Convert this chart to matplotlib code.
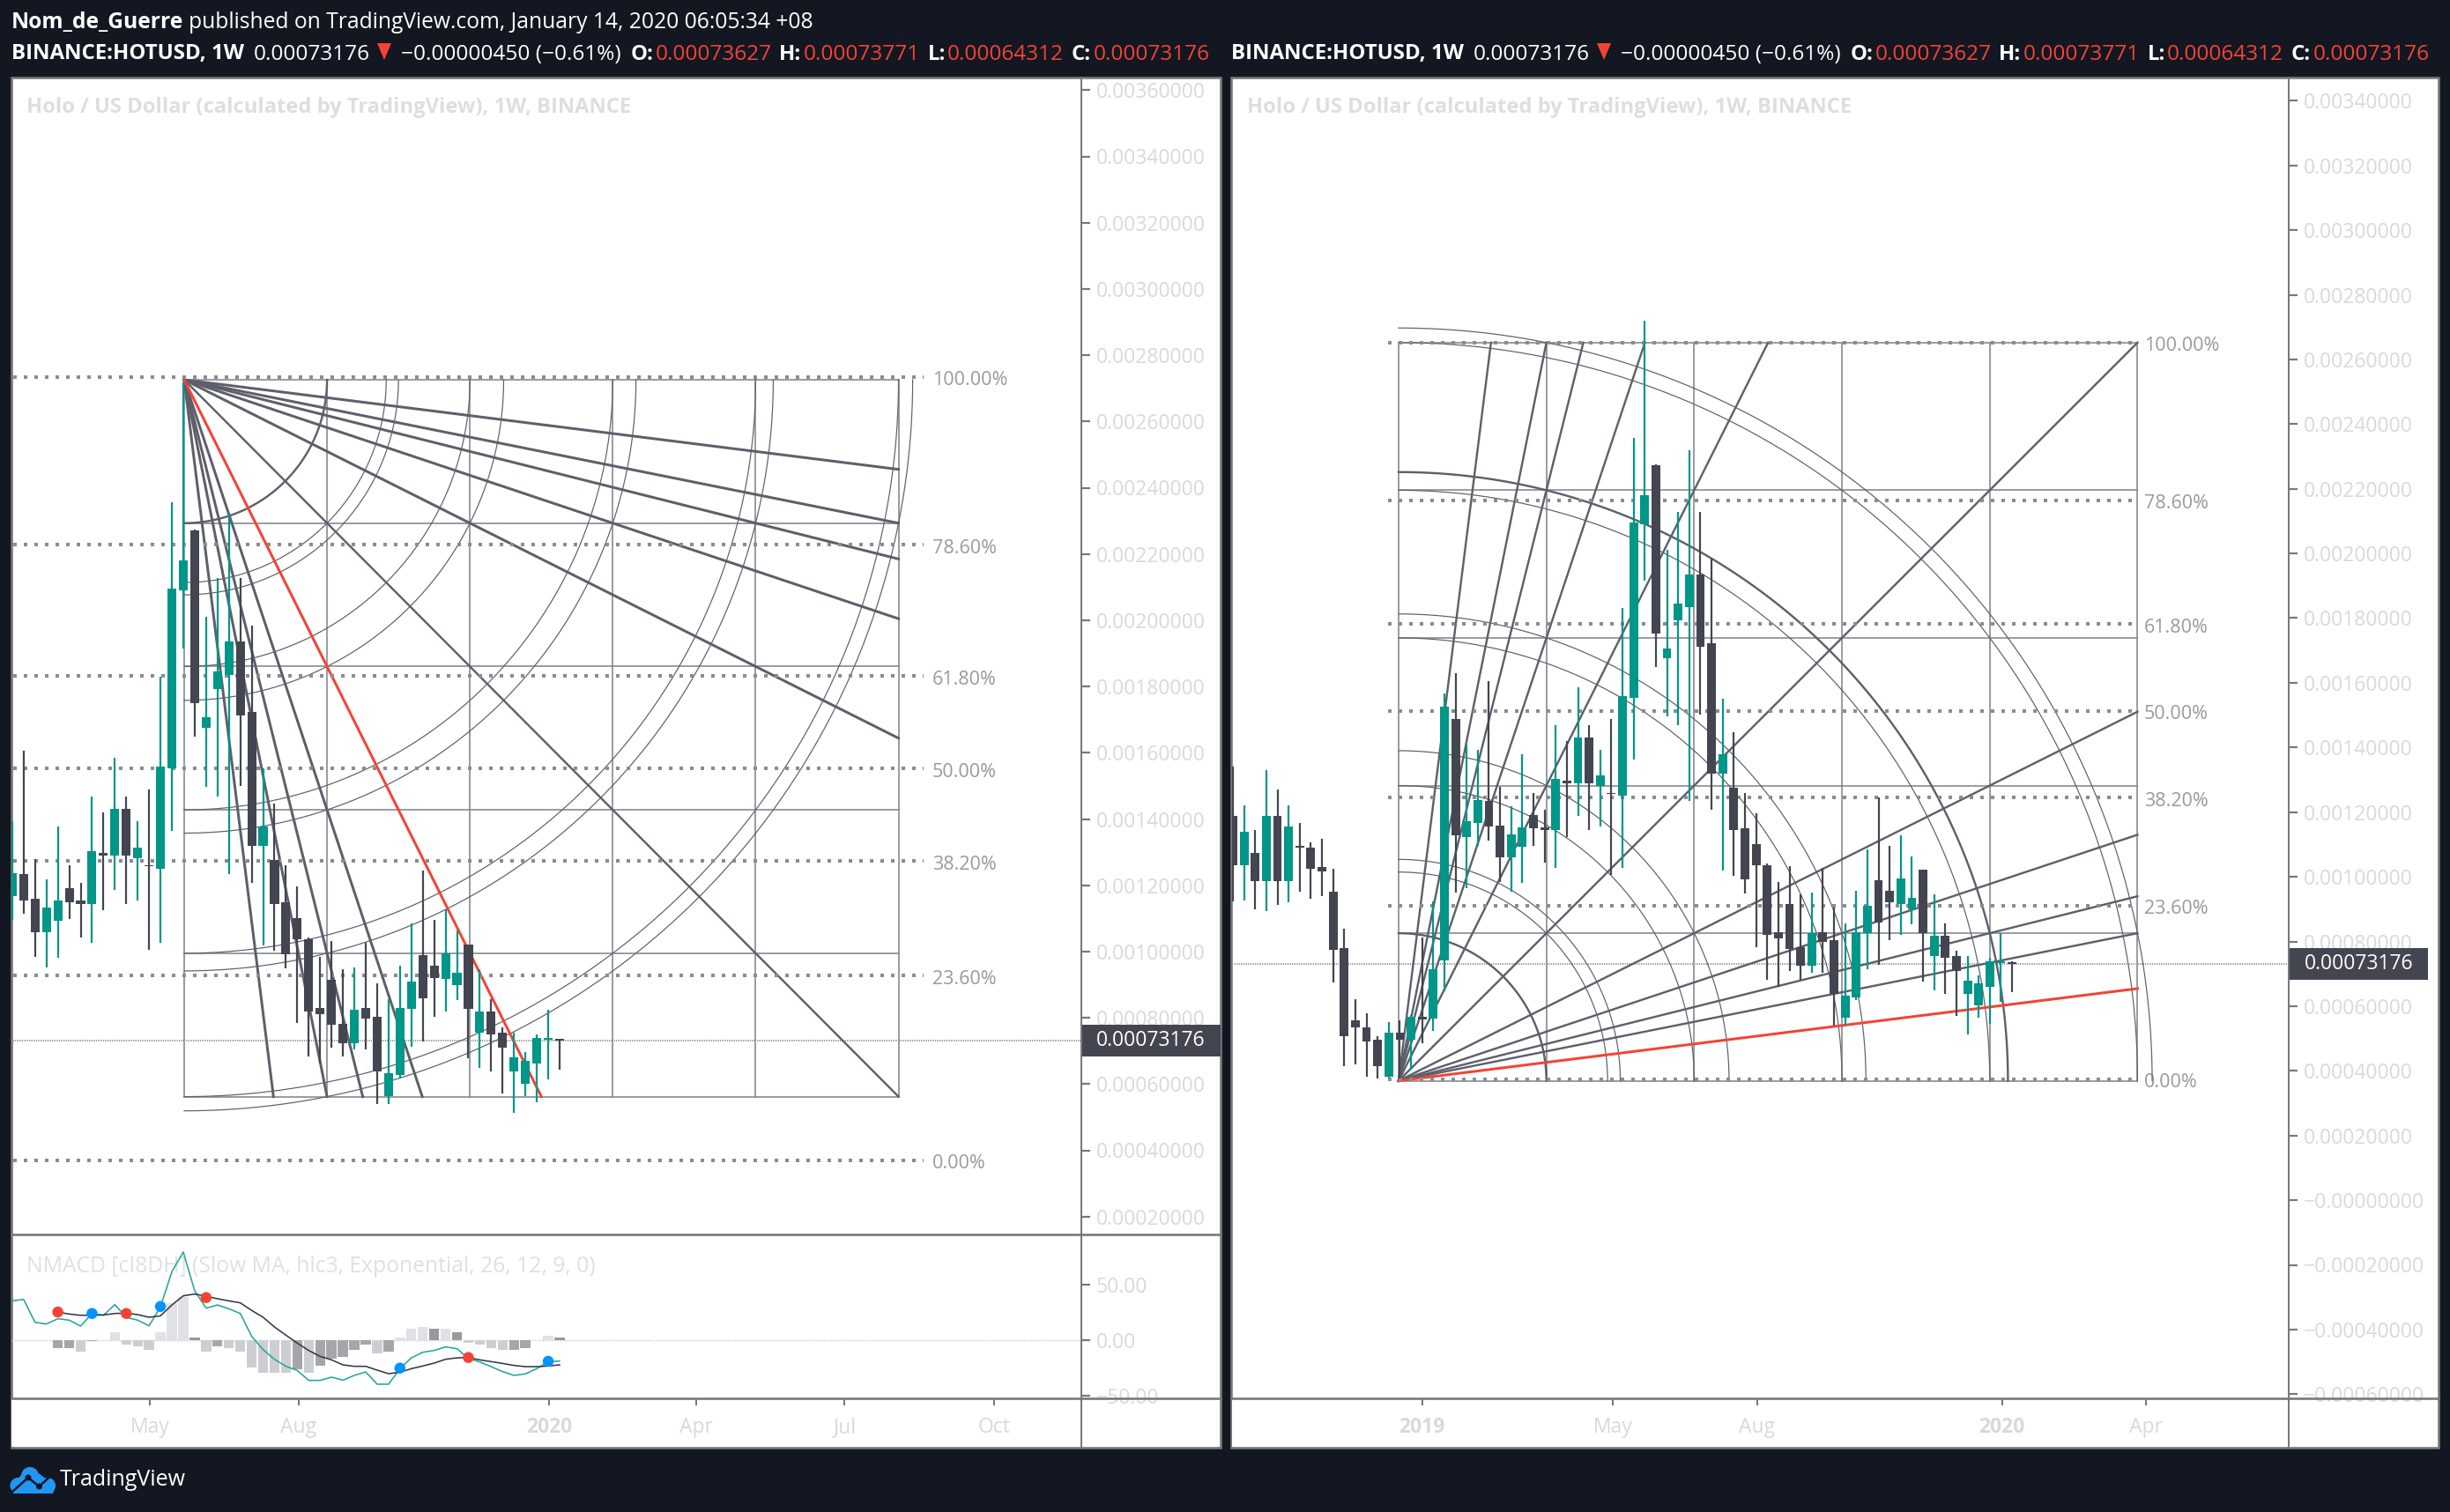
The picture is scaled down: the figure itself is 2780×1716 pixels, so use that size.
import matplotlib
matplotlib.use('Agg')
import matplotlib.pyplot as plt
from matplotlib.patches import Rectangle, Circle, Polygon
import numpy as np

plt.rcParams['font.family'] = ['Open Sans', 'DejaVu Sans']

W, H = 2780, 1716
PT = 72 / 100  # points per pixel at dpi 100

# weekly candles, units of 1e-5 USD, bar 0 is the first one visible in the right chart
opens = [118.8, 103.6, 107.4, 98.6, 118.8, 98.6, 109.6, 108.9, 103.0, 95.3, 78.0, 55.6, 53.4, 49.7, 38.2, 51.7,
         49.7, 56.7, 56.2, 74.2, 148.8, 112.2, 116.6, 123.4, 115.9, 105.9, 109.2, 119.1, 115.4, 114.4, 129.7,
         128.9, 143.0, 128.1, 126.0, 125.0, 155.4, 209.0, 227.2, 167.6, 179.3, 183.4, 193.6, 172.3, 131.9, 127.6,
         114.9, 110.1, 103.7, 82.9, 91.5, 78.2, 72.4, 82.9, 80.3, 56.3, 62.8, 82.6, 98.9, 95.8, 91.6, 90.0, 102.1,
         75.6, 81.8, 75.5, 63.9, 60.2, 66.1, 73.3, 73.627]
closes = [103.6, 113.9, 98.6, 118.8, 98.6, 115.5, 108.9, 102.5, 101.6, 77.5, 50.7, 53.4, 49.2, 41.5, 51.7, 49.7,
          56.7, 55.9, 71.4, 152.6, 112.9, 117.2, 123.6, 115.5, 105.9, 113.2, 115.4, 114.9, 114.4, 130.3, 128.9,
          143.0, 128.9, 131.4, 125.7, 155.8, 209.6, 218.0, 175.1, 170.7, 184.5, 193.6, 171.2, 131.9, 137.8, 114.4,
          99.1, 103.7, 82.0, 81.0, 77.8, 72.4, 82.5, 79.8, 63.9, 63.3, 82.9, 91.0, 85.8, 92.1, 99.4, 93.6, 82.6,
          81.8, 75.0, 70.9, 68.0, 67.1, 73.9, 73.9, 73.176]
highs = [134.0, 122.1, 114.4, 133.0, 126.9, 122.1, 116.6, 110.7, 111.7, 102.5, 83.9, 62.2, 57.8, 50.7, 55.0, 55.6,
         57.3, 81.3, 92.5, 156.8, 162.9, 140.9, 139.3, 160.6, 127.8, 121.8, 137.8, 126.0, 120.7, 146.8, 142.0,
         158.5, 146.8, 139.4, 148.9, 183.0, 235.6, 271.9, 227.5, 201.0, 212.7, 231.8, 212.7, 198.3, 155.2, 144.6,
         126.0, 119.7, 104.2, 98.3, 103.2, 94.7, 95.2, 102.7, 90.4, 85.6, 95.8, 108.5, 124.5, 109.6, 112.7, 106.4,
         102.1, 94.7, 85.6, 77.1, 75.6, 69.6, 75.0, 82.5, 73.771]
lows = [92.4, 92.8, 90.0, 89.5, 91.3, 92.2, 95.5, 93.3, 93.9, 67.2, 41.5, 42.0, 38.2, 37.6, 37.6, 37.6, 40.3, 48.6,
        52.3, 64.7, 95.0, 96.6, 109.6, 111.3, 98.5, 95.3, 98.0, 109.7, 104.3, 102.7, 112.4, 118.7, 114.4, 115.5,
        100.6, 102.7, 136.3, 191.5, 165.0, 149.6, 146.9, 123.5, 150.1, 120.8, 101.8, 100.2, 94.8, 78.3, 68.2, 66.1,
        70.9, 68.2, 70.4, 70.4, 53.9, 53.9, 61.8, 71.3, 72.9, 80.4, 82.0, 85.3, 67.7, 65.0, 63.9, 57.1, 51.2, 56.3,
        54.4, 61.3, 64.312]

# NMACD values for bars 22..70 (teal), 26..70 (signal and histogram)
macd_vals = [35.2, 36.5, 16.0, 14.5, 19.2, 17.9, 12.6, 23.9, 22.3, 31.8, 20.5, 17.9, 12.9, 29.7, 61.3, 78.9, 44.2,
             28.7, 31.5, 28.1, 23.9, 3.4, -8.4, -17.1, -23.4, -27.1, -36.0, -36.0, -33.1, -35.8, -31.5, -28.4,
             -39.4, -39.4, -25.5, -15.8, -10.8, -9.2, -6.0, -7.6, -16.3, -19.5, -23.7, -28.1, -31.5, -30.2, -25.5,
             -19.2, -18.7]
signal_vals = [25.0, 23.4, 22.3, 22.3, 22.6, 23.9, 24.2, 22.9, 20.5, 21.8, 31.5, 39.7, 41.3, 39.4, 37.1, 35.2, 33.4,
               26.6, 20.5, 11.8, 4.5, -2.6, -9.2, -14.5, -17.6, -22.1, -23.4, -23.4, -26.8, -30.0, -28.7, -25.5,
               -23.1, -20.5, -17.1, -15.8, -15.5, -17.6, -19.2, -20.8, -22.6, -23.7, -23.7, -23.1, -22.1]
hist_vals = [-7.1, -7.1, -10.3, -0.8, 0.0, 7.1, -3.9, -5.5, -8.7, 7.1, 33.4, 38.6, 2.4, -10.3, -5.5, -7.1, -10.3,
             -24.4, -29.2, -29.2, -29.2, -26.0, -29.2, -22.9, -16.6, -15.0, -8.7, -3.9, -11.8, -10.3, 2.4, 10.3,
             11.8, 10.3, 10.3, 7.1, -2.4, -3.9, -7.1, -8.7, -8.7, -7.1, 0.0, 3.9, 2.4]
hist_dark = [26, 27, 29, 38, 40, 47, 49, 50, 51, 52, 53, 55, 59, 61, 66, 67, 70]
cross_bars = [26, 29, 32, 35, 39, 56, 62, 69]
cross_vals = [25.2, 23.9, 23.9, 30.2, 38.1, -25.0, -15.5, -18.9]
cross_cols = ['#f44336', '#0094ff', '#f44336', '#0094ff', '#f44336', '#0094ff', '#f44336', '#0094ff']

# time axis labels, position in bars
time_ticks = [17, 34.1, 47.1, 69.1, 82, 95, 108.1]
time_labels = ['2019', 'May', 'Aug', '2020', 'Apr', 'Jul', 'Oct']

left_ticks = [0.0002 * k for k in range(1, 19)]
right_ticks = [-0.0006, -0.0004, -0.0002, -0.0] + [0.0002 * k for k in range(1, 18)]
macd_ticks = [-50, 0, 50]
macd_labels = ['\u221250.00', '0.00', '50.00']

fib_levels = [0, 0.236, 0.382, 0.5, 0.618, 0.786, 1]
fib_names = ['0.00%', '23.60%', '38.20%', '50.00%', '61.80%', '78.60%', '100.00%']
fan_ratios = [1 / 8, 1 / 5, 1 / 4, 1 / 3, 1 / 2]
arc_pairs = [(1, 0), (1, 1), (1.5, 0), (2, 0), (2, 1), (3, 0), (3, 1), (4, 0), (4, 1), (5, 0), (5, 1)]

GREEN = '#009688'
DARK = '#434651'
RED = '#f44336'
GANN = '#5d606b'
GRID = '#83858e'
TICK = '#d9d9d9'
FIB = '#8c8c8c'
BG = '#131722'
BORDER = '#787878'

fig = plt.figure(figsize=(W / 100, H / 100), dpi=100, facecolor=BG)


def px_axes(x0, y0, x1, y1, zorder=1):
    ax = fig.add_axes([x0 / W, 1 - y1 / H, (x1 - x0) / W, (y1 - y0) / H], zorder=zorder)
    ax.patch.set_alpha(0)
    return ax


bg = px_axes(0, 0, W, H, 0)
bg.set_xlim(0, W)
bg.set_ylim(H, 0)
bg.axis('off')
fg = px_axes(0, 0, W, H, 10)
fg.set_xlim(0, W)
fg.set_ylim(H, 0)
fg.axis('off')


def candles(ax, x, width):
    o = np.array(opens) * 1e-5
    c = np.array(closes) * 1e-5
    hi = np.array(highs) * 1e-5
    lo = np.array(lows) * 1e-5
    for up, col in [(True, GREEN), (False, DARK)]:
        m = (c >= o) if up else (c < o)
        ax.vlines(x[m], lo[m], hi[m], color=col, lw=2.2 * PT, zorder=5)
        ax.bar(x[m], np.abs(c - o)[m], bottom=np.minimum(o, c)[m], width=width, color=col, lw=0, zorder=5)


def gann(ax, t0, t1, top, bot, down, red_ratio, bold_arcs, red_side, fan_lw):
    # box grid, fan and arcs of a gann square, origin in the corner (t0, down ? top : bot)
    dt = t1 - t0
    dp = top - bot
    for k in range(6):
        ax.plot([t0 + dt * k / 5] * 2, [bot, top], color=GRID, lw=1.6 * PT, zorder=2)
        ax.plot([t0, t1], [bot + dp * k / 5] * 2, color=GRID, lw=1.6 * PT, zorder=2)
    y0 = top if down else bot
    sgn = -1 if down else 1
    for pair in arc_pairs:
        r = 0.2 * np.hypot(*pair)
        t = np.linspace(0, np.pi / 2, 200)
        bold = round(r, 3) in bold_arcs
        ax.plot(t0 + dt * r * np.cos(t), y0 + sgn * dp * r * np.sin(t), color=GANN,
                lw=(2.4 if bold else 1.2) * PT, zorder=3)
    ax.plot([t0, t1], [y0, y0 + sgn * dp], color=GANN, lw=2.4 * PT, zorder=3)
    for q in fan_ratios:
        col = RED if q == red_ratio else GANN
        ax.plot([t0, t0 + dt * q], [y0, y0 + sgn * dp], color=col, lw=fan_lw * PT, zorder=3 if q != red_ratio else 4)
        red = q == 1 / 8 and red_side
        ax.plot([t0, t1], [y0, y0 + sgn * dp * q], color=RED if red else GANN, lw=(3 if red else fan_lw) * PT,
                zorder=4 if red else 3)


def fib(ax, t0, t1, label_x, p0, p1, y_of):
    for lev, name in zip(fib_levels, fib_names):
        p = p0 + (p1 - p0) * lev
        ax.plot([t0, t1], [p, p], color=FIB, lw=4 * PT, linestyle=(0, (1, 2)), dash_capstyle='butt', zorder=4)
        bg.text(label_x, y_of(p) + 4, name, color='#9a9a9a', fontsize=15.5, va='center', ha='left')


def price_axis(ax, ticks, labels):
    ax.yaxis.tick_right()
    ax.set_yticks(ticks)
    ax.set_yticklabels(labels, color=TICK, fontsize=16.5)
    ax.tick_params(axis='y', length=10 * PT, width=2.2 * PT, color=BORDER, pad=7 * PT)
    ax.set_xticks([])
    for s in ax.spines.values():
        s.set_visible(False)
    ax.spines['right'].set_visible(True)
    ax.spines['right'].set_color(BORDER)
    ax.spines['right'].set_linewidth(2 * PT)


def last_price(ax, box_h, box_w):
    close = closes[-1] * 1e-5
    ax.axhline(close, color='#9a9a9a', lw=2 * PT, linestyle=(0, (0.5, 0.5)), zorder=2)
    ax.add_patch(Rectangle((1, close - box_h), box_w, 2 * box_h, transform=ax.get_yaxis_transform(), color=DARK,
                           clip_on=False, zorder=6, lw=0))
    ax.text(1 + 17.5 * box_w / 158, close, '0.00073176', transform=ax.get_yaxis_transform(), color='white',
            fontsize=16.5, va='center', ha='left', zorder=7)


def time_axis(x0, x1, xlim):
    ta = px_axes(x0, 1587, x1, 1642, 3)
    ta.patch.set_alpha(1)
    ta.set_ylim(0, 1)
    ta.set_yticks([])
    shown = [(t, lab) for t, lab in zip(time_ticks, time_labels) if xlim[0] < t < xlim[1]]
    ta.set_xticks([t for t, lab in shown])
    ta.set_xticklabels([])
    ta.set_xlim(*xlim)
    ta.tick_params(axis='x', bottom=False, top=True, direction='in', length=8 * PT, width=2 * PT, color=BORDER)
    for s in ta.spines.values():
        s.set_visible(False)
    for t, lab in shown:
        ta.text(t, 0.40, lab, color=TICK, fontsize=16.5, ha='center', va='center',
                fontweight='bold' if lab.isdigit() else 'normal')


def header(dx):
    y = 61.5
    bg.text(13 + dx, y, 'BINANCE:HOTUSD, 1W', color='white', fontsize=17.3, fontweight='bold', va='center')
    bg.text(288 + dx, y, '0.00073176', color='white', fontsize=17.6, va='center')
    bg.add_patch(Polygon([(428 + dx, 49), (444 + dx, 49), (436 + dx, 68)], color=RED, lw=0))
    bg.text(455 + dx, y, '\u22120.00000450 (\u22120.61%)', color='white', fontsize=17.6, va='center')
    for x, lab, x2, val in [(716, 'O:', 744, '0.00073627'), (884, 'H:', 912, '0.00073771'),
                            (1053, 'L:', 1075, '0.00064312'), (1216, 'C:', 1241, '0.00073176')]:
        bg.text(x + dx, y, lab, color='white', fontsize=17.3, fontweight='bold', va='center')
        bg.text(x2 + dx, y, val, color=RED, fontsize=17.6, va='center')


# panels
for x0, x1 in [(13, 1385), (1397, 2767)]:
    bg.add_patch(Rectangle((x0, 87.5), x1 - x0, 1555, facecolor='white', edgecolor=BORDER, lw=2.6 * PT))

# left chart
xs = np.arange(len(closes))
ax_l = px_axes(13.5, 88, 1226.7, 1400)
lim_l = (23 + (13.5 - 26.8) / 12.94, 23 + (1226.7 - 26.8) / 12.94)
ax_l.set_xlim(*lim_l)
ax_l.set_ylim(0.0002 - (1400 - 1380.7) / 376000, 0.0002 + (1380.7 - 88) / 376000)
price_axis(ax_l, left_ticks, ['%.8f' % v for v in left_ticks])
gann(ax_l, 37.08, 99.72, 0.0027258, 0.000562, True, 1 / 2, [0.2], False, 3)
fib(ax_l, 22.06, 101.9, 1058, 0.00037, 0.002734, lambda p: 1380.7 - (p - 0.0002) * 376000)
last_price(ax_l, 18 / 376000, 158 / 1213.2)
candles(ax_l, xs, 0.78)

# right chart
ax_r = px_axes(1397.5, 88, 2597, 1587)
lim_r = ((1397.5 - 1399) / 12.63, (2597 - 1399) / 12.63)
ax_r.set_xlim(*lim_r)
ax_r.set_ylim(0.0002 - (1587 - 1288.7) / 367000, 0.0002 + (1288.7 - 88) / 367000)
price_axis(ax_r, right_ticks, [('%.8f' % v).replace('-', '\u2212') for v in right_ticks])
gann(ax_r, 14.885, 81.27, 0.002652, 0.000369, False, -1, [0.2, 0.825], True, 2.4)
fib(ax_r, 13.97, 81.25, 2433, 0.000374, 0.002652, lambda p: 1288.7 - (p - 0.0002) * 367000)
last_price(ax_r, 18 / 367000, 158 / 1199.5)
candles(ax_r, xs, 0.78)

# NMACD pane
ax_m = px_axes(13.5, 1401, 1226.7, 1587)
ax_m.set_xlim(*lim_l)
ax_m.set_ylim((1521 - 1587) / 1.268, (1521 - 1401) / 1.268)
price_axis(ax_m, macd_ticks, macd_labels)
ax_m.axhline(0, color='#c9cad0', lw=1.4 * PT, linestyle=(0, (1, 1)), zorder=1)
hx = np.arange(26, 71)
hv = np.array(hist_vals)
hc = []
for b, v in zip(hx, hv):
    if b in hist_dark:
        hc.append('#a5a6ab' if v < 0 else '#9a9a9c')
    else:
        hc.append('#cdced4' if v < 0 else '#e0e1e6')
ax_m.bar(hx, hv, width=0.88, color=hc, lw=0, zorder=2)
ax_m.plot(np.arange(22, 71), macd_vals, color='#26a69a', lw=1.6 * PT, zorder=3)
ax_m.plot(hx, signal_vals, color='#363a45', lw=1.6 * PT, zorder=3)
ax_m.scatter(cross_bars, cross_vals, s=(12.5 * PT) ** 2, c=cross_cols, lw=0, zorder=4)

time_axis(13.5, 1226.7, lim_l)
time_axis(1397.5, 2597, lim_r)

# separators on top of the panes
for x0, x1, y in [(13, 1385, 1400.5), (13, 1385, 1587), (1397, 2767, 1587)]:
    fg.plot([x0, x1], [y, y], color=BORDER, lw=2.6 * PT)
for x in [1226.7, 2597]:
    fg.plot([x, x], [88, 1642], color=BORDER, lw=2 * PT)

# titles and header
bg.text(13, 25.5, 'Nom_de_Guerre', color='white', fontsize=17.7, fontweight='bold', va='center')
bg.text(214, 25.5, 'published on TradingView.com, January 14, 2020 06:05:34 +08', color='white', fontsize=17.7, va='center')
header(0)
header(1384)
for x in [30, 1415]:
    bg.text(x, 122.5, 'Holo / US Dollar (calculated by TradingView), 1W, BINANCE', color='#dedede', fontsize=17.1,
            fontweight='bold', va='center')
bg.text(30, 1437, 'NMACD [cI8DH] (Slow MA, hlc3, Exponential, 26, 12, 9, 0)', color='#e0e0e0', fontsize=17.8, va='center')

# logo
for cx, cy, r in [(20.5, 1686, 9), (34, 1675, 10), (54, 1686, 9)]:
    bg.add_patch(Circle((cx, cy), r, color='#2196f3', lw=0))
bg.add_patch(Polygon([(12, 1687), (26, 1672), (44, 1672), (63, 1687), (60, 1695), (15, 1695)], color='#2196f3', lw=0))
bg.plot([14, 32, 44.5, 57.5], [1693, 1677, 1687, 1675], color=BG, lw=2.5 * PT)
for cx, cy in [(32, 1677), (44.5, 1687)]:
    bg.add_patch(Circle((cx, cy), 3.5, color=BG, lw=0))
bg.text(67.5, 1680, 'TradingView', color='white', fontsize=18, va='center')

fig.savefig('out.png', dpi=100, facecolor=BG)
